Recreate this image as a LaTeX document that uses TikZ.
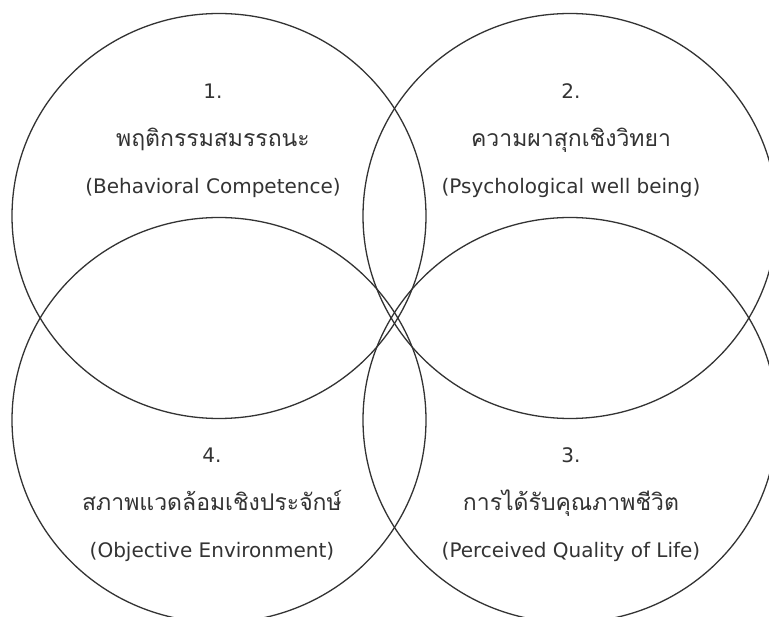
\documentclass[tikz,border=0pt]{standalone}
\usepackage{fontspec}
\setmainfont{DejaVu Sans}
\newfontfamily\thaifont[Script=Thai]{Loma}
\usetikzlibrary{shapes.geometric,positioning}
\definecolor{ringgray}{rgb}{0.2,0.2,0.2}

\begin{document}
\begin{tikzpicture}[x=1pt, y=-1pt,
node distance = 27pt,
ring/.style  = {ellipse, draw=ringgray, line width=1.3pt,
                minimum width=414pt, minimum height=405pt, inner sep=0pt},
label/.style = {inner sep=0pt, text height=15pt, text depth=5pt,
                text=ringgray, anchor=center},
num/.style   = {label, font=\fontsize{20}{24}\selectfont},
thai/.style  = {label, font=\thaifont\fontsize{23}{28}\selectfont},
eng/.style   = {label, font=\fontsize{20}{24}\selectfont},
                    ]
\path[use as bounding box, fill=white] (0,0) rectangle (769,617);

% the four rings
\node[ring] (c1) at (219,216) {};
\node[ring] (c2) at (570,216) {};
\node[ring] (c3) at (570,420) {};
\node[ring] (c4) at (219,420) {};

% 1. top left
\node[num]                  (n1) at (213,94) {1.};
\node[thai, below=of n1]    (t1) {พฤติกรรมสมรรถนะ};
\node[eng,  below=of t1]    (e1) {(Behavioral Competence)};

% 2. top right
\node[num]                  (n2) at (571,94) {2.};
\node[thai, below=of n2]    (t2) {ความผาสุกเชิงวิทยา};
\node[eng,  below=of t2]    (e2) {(Psychological well being)};

% 3. bottom right
\node[num]                  (n3) at (571,458) {3.};
\node[thai, below=of n3]    (t3) {การได้รับคุณภาพชีวิต};
\node[eng,  below=of t3]    (e3) {(Perceived Quality of Life)};

% 4. bottom left
\node[num]                  (n4) at (212,458) {4.};
\node[thai, below=of n4]    (t4) {สภาพแวดล้อมเชิงประจักษ์};
\node[eng,  below=of t4]    (e4) {(Objective Environment)};
\end{tikzpicture}
\end{document}
